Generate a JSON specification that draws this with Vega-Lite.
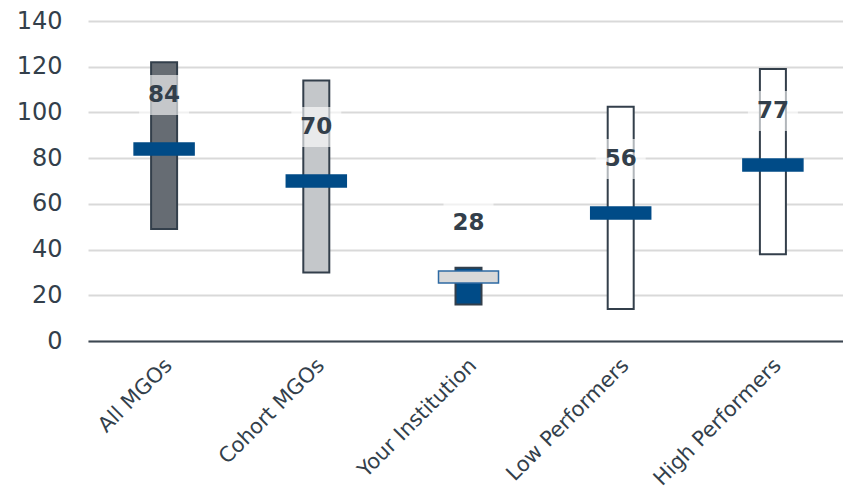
{
  "$schema": "https://vega.github.io/schema/vega-lite/v6.json",
  "autosize": {"type": "none"},
  "padding": {"left": 88, "top": 21, "right": 0, "bottom": 148},
  "width": 755,
  "height": 320,
  "background": "white",
  "config": {
    "view": {"stroke": null},
    "font": "DejaVu Sans"
  },
  "data": {
    "values": [
      {"group": "All MGOs", "low": 49, "high": 122, "median": 84, "fill": "#666c73", "markFill": "#004b87", "markStroke": "#004b87"},
      {"group": "Cohort MGOs", "low": 30, "high": 114, "median": 70, "fill": "#c4c7ca", "markFill": "#004b87", "markStroke": "#004b87"},
      {"group": "Your Institution", "low": 16, "high": 32, "median": 28, "fill": "#004b87", "markFill": "#d9d9d9", "markStroke": "#2e6aa3"},
      {"group": "Low Performers", "low": 14, "high": 102.5, "median": 56, "fill": "#ffffff", "markFill": "#004b87", "markStroke": "#004b87"},
      {"group": "High Performers", "low": 38, "high": 119, "median": 77, "fill": "#ffffff", "markFill": "#004b87", "markStroke": "#004b87"}
    ]
  },
  "encoding": {
    "x": {
      "field": "group",
      "type": "nominal",
      "sort": null,
      "scale": {"paddingInner": 0, "paddingOuter": 0, "range": [0, 761]},
      "axis": {
        "title": null,
        "labelAngle": -45,
        "labelAlign": "right",
        "labelBaseline": "middle",
        "labelFontSize": 21,
        "labelColor": "#333f4b",
        "labelPadding": 21,
        "labelOffset": 5,
        "ticks": false,
        "domain": true,
        "domainColor": "#3d4752",
        "domainWidth": 2,
        "grid": false
      }
    }
  },
  "layer": [
    {
      "mark": {"type": "bar", "width": 26, "stroke": "#333f4b", "strokeWidth": 2},
      "encoding": {
        "y": {
          "field": "low",
          "type": "quantitative",
          "scale": {"domain": [0, 140], "nice": false},
          "axis": {
            "title": null,
            "values": [0, 20, 40, 60, 80, 100, 120, 140],
            "labelFontSize": 24,
            "labelColor": "#333f4b",
            "labelPadding": 26,
            "ticks": false,
            "domain": false,
            "grid": true,
            "gridColor": "#d9d9d9",
            "gridWidth": 2
          }
        },
        "y2": {"field": "high"},
        "fill": {"field": "fill", "type": "nominal", "scale": null, "legend": null}
      }
    },
    {
      "mark": {"type": "tick", "thickness": 12, "size": 60, "strokeWidth": 1.5, "opacity": 1},
      "encoding": {
        "y": {"field": "median", "type": "quantitative"},
        "fill": {"field": "markFill", "type": "nominal", "scale": null, "legend": null},
        "stroke": {"field": "markStroke", "type": "nominal", "scale": null, "legend": null}
      }
    },
    {
      "mark": {"type": "tick", "thickness": 40, "size": 50, "yOffset": -54, "color": "white", "opacity": 0.62},
      "encoding": {
        "y": {"field": "median", "type": "quantitative"}
      }
    },
    {
      "mark": {"type": "text", "fontSize": 23, "fontWeight": "bold", "color": "#333f4b", "dy": -54, "baseline": "middle", "align": "center"},
      "encoding": {
        "y": {"field": "median", "type": "quantitative"},
        "text": {"field": "median", "type": "quantitative"}
      }
    }
  ]
}
